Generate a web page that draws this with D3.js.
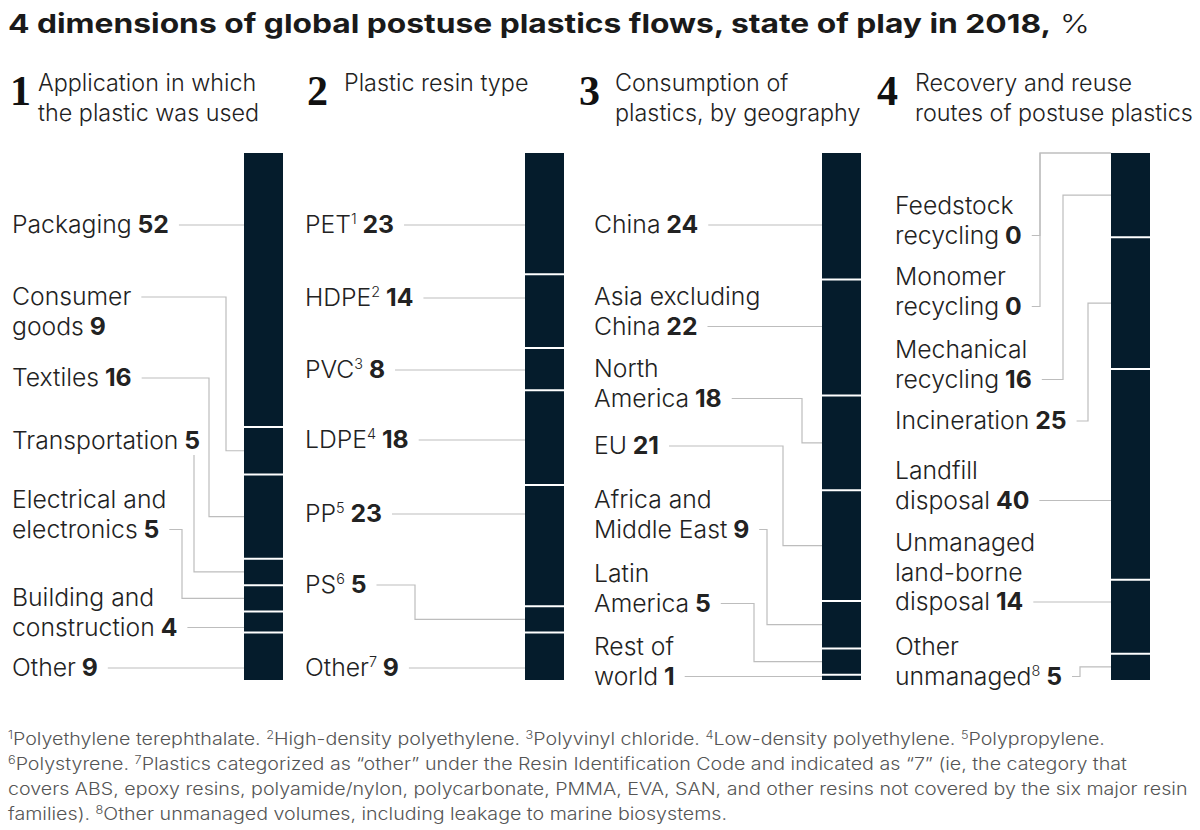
<!DOCTYPE html>
<html><head><meta charset="utf-8">
<script src="https://cdn.jsdelivr.net/npm/d3@7"></script>
<style>
body{margin:0;background:#fff;}
text{font-family:Inter,"Open Sans","Liberation Sans",sans-serif;}
text.num{font-family:"Liberation Serif","DejaVu Serif",serif;}
</style></head>
<body><svg id="c" width="1200" height="830"></svg>
<script>
// ---------- data ----------
const appCats  = ["Packaging","Consumer goods","Textiles","Transportation","Electrical and electronics","Building and construction","Other"];
const appVals  = [52,9,16,5,5,4,9];
const resinCats = ["PET","HDPE","PVC","LDPE","PP","PS","Other"];
const resinSups = ["1","2","3","4","5","6","7"];
const resinVals = [23,14,8,18,23,5,9];
const geoCats  = ["China","Asia excluding China","North America","EU","Africa and Middle East","Latin America","Rest of world"];
const geoVals  = [24,22,18,21,9,5,1];
const routeCats = ["Feedstock recycling","Monomer recycling","Mechanical recycling","Incineration","Landfill disposal","Unmanaged land-borne disposal","Other unmanaged"];
const routeSups = ["","","","","","","8"];
const routeVals = [0,0,16,25,40,14,5];
const headers = [["Application in which","the plastic was used"],["Plastic resin type"],["Consumption of","plastics, by geography"],["Recovery and reuse","routes of postuse plastics"]];
const title = "4 dimensions of global postuse plastics flows, state of play in 2018,";
const titleUnit = " %";

// label line breaks & leader layout (layout only)
const layouts = [
  {barX:244, labelX:12, headX:10, headTextX:38, items:[
    {lines:["Packaging"], y:225},
    {lines:["Consumer","goods"], y:297, lead:0, elbow:226},
    {lines:["Textiles"], y:378, elbow:209},
    {lines:["Transportation"], y:441, below:true, elbow:194},
    {lines:["Electrical and","electronics"], y:500, elbow:182},
    {lines:["Building and","construction"], y:598},
    {lines:["Other"], y:668}]},
  {barX:525, labelX:305, headX:307, headTextX:344, items:[
    {lines:["PET"], y:225},{lines:["HDPE"], y:298},{lines:["PVC"], y:370},
    {lines:["LDPE"], y:440},{lines:["PP"], y:514},
    {lines:["PS"], y:585, elbow:415},{lines:["Other"], y:668}]},
  {barX:822, labelX:594, headX:579, headTextX:615, items:[
    {lines:["China"], y:225},
    {lines:["Asia excluding","China"], y:297},
    {lines:["North","America"], y:369, elbow:802},
    {lines:["EU"], y:446, elbow:783},
    {lines:["Africa and","Middle East"], y:500, elbow:767},
    {lines:["Latin","America"], y:574, elbow:754},
    {lines:["Rest of","world"], y:647}]},
  {barX:1111, labelX:895, headX:877, headTextX:915, items:[
    {lines:["Feedstock","recycling"], y:206, elbow:1040, edge:true},
    {lines:["Monomer","recycling"], y:277, elbow:1040, edge:true},
    {lines:["Mechanical","recycling"], y:350, elbow:1063},
    {lines:["Incineration"], y:421, elbow:1088},
    {lines:["Landfill","disposal"], y:471},
    {lines:["Unmanaged","land-borne","disposal"], y:543},
    {lines:["Other","unmanaged"], y:647, elbow:1080}]}
];
const columns = [
  {cats:appCats, vals:appVals, sups:null},
  {cats:resinCats, vals:resinVals, sups:resinSups},
  {cats:geoCats, vals:geoVals, sups:null},
  {cats:routeCats, vals:routeVals, sups:routeSups}
];

const footnotes = [
  [["1","Polyethylene terephthalate. "],["2","High-density polyethylene. "],["3","Polyvinyl chloride. "],["4","Low-density polyethylene. "],["5","Polypropylene."]],
  [["6","Polystyrene. "],["7","Plastics categorized as “other” under the Resin Identification Code and indicated as “7” (ie, the category that"]],
  [["","covers ABS, epoxy resins, polyamide/nylon, polycarbonate, PMMA, EVA, SAN, and other resins not covered by the six major resin"]],
  [["","families). "],["8","Other unmanaged volumes, including leakage to marine biosystems."]]
];

// ---------- drawing ----------
const svg = d3.select("#c");
const NAVY = "#051c2c", INK = "#222", LINE = "#bdbdbd";
const barW = 39, lineH = 29.5, FS = 24;
const y = d3.scaleLinear().domain([0,100]).range([153,680]);

function measure(parts, size) {
  const p = svg.append("text").attr("font-size",size);
  parts.forEach(([w,t]) => p.append("tspan").attr("font-weight",w).text(t));
  const w = p.node().getComputedTextLength();
  p.remove();
  return w;
}
// horizontal scales so the font widths match the reference
const KX = Math.max(0.85, Math.min(1.2, 157 / measure([[300,"Packaging"],[700," 52"]], FS)));
const HK = Math.max(0.85, Math.min(1.2, 278 / measure([[300,"routes of postuse plastics"]], FS)));

function stext(g, x, yy, size, k) {
  return g.append("text").attr("transform",`translate(${x},${yy}) scale(${k},1)`)
    .attr("font-size",size).attr("fill",INK);
}

// title (scaled horizontally to the reference width)
const tt = svg.append("text").attr("font-size",26).attr("fill","#1a1a1a");
tt.append("tspan").attr("font-weight",700).text(title);
tt.append("tspan").attr("font-weight",300).text(titleUnit);
{
  const w = tt.node().getComputedTextLength();
  tt.attr("transform",`translate(8,33) scale(${1082/w},1)`);
}

columns.forEach((col, ci) => {
  const L = layouts[ci];
  const g = svg.append("g");
  // header
  g.append("text").attr("class","num").attr("x",L.headX).attr("y",105)
    .attr("font-weight",700).attr("font-size",42).attr("fill","#111").text(String(ci+1));
  headers[ci].forEach((h,i)=>{
    stext(g, L.headTextX, 91+i*lineH, FS, HK).attr("font-weight",300).text(h);
  });
  // stacked segments
  const cum = d3.cumsum(col.vals);
  const segs = col.vals.map((v,i)=>({v, y0:(cum[i]-v), y1:cum[i]}));
  g.selectAll("rect.seg").data(segs).join("rect").attr("class","seg")
    .attr("x",L.barX).attr("width",barW)
    .attr("y",d=>y(d.y0)).attr("height",d=>y(d.y1)-y(d.y0)).attr("fill",NAVY);
  // separators
  const bounds = cum.slice(0,-1).filter((c,i)=>col.vals[i]>0 && c>0 && c<100);
  g.selectAll("line.sep").data(bounds).join("line").attr("class","sep")
    .attr("x1",L.barX).attr("x2",L.barX+barW).attr("y1",d=>y(d)).attr("y2",d=>y(d))
    .attr("stroke","#fff").attr("stroke-width",2);

  // labels
  L.items.forEach((it, i) => {
    const nl = it.lines.length;
    const lineNodes = [];
    it.lines.forEach((ln, li) => {
      const tl = stext(g, L.labelX, it.y + li*lineH + 8, FS, KX);
      tl.append("tspan").attr("font-weight",300).text(ln);
      if (li === nl-1) {
        const sup = col.sups ? col.sups[i] : "";
        if (sup) {
          tl.append("tspan").attr("font-weight",300).attr("font-size",14).attr("dy",-9).text(sup);
          tl.append("tspan").attr("font-weight",700).attr("dy",9).text(" " + col.vals[i]);
        } else {
          tl.append("tspan").attr("font-weight",700).text(" " + col.vals[i]);
        }
      }
      lineNodes.push(tl.node());
    });
    // leader
    const li = it.lead !== undefined ? it.lead : nl-1;
    const ly = it.y + li*lineH;
    const textEnd = L.labelX + KX * lineNodes[li].getComputedTextLength();
    const sx = textEnd + 10;
    const s = segs[i];
    const mid = it.edge ? y(s.y0) : y((s.y0+s.y1)/2);
    let path;
    if (it.below) {
      path = `M${it.elbow},${ly+14}V${mid}H${L.barX}`;
    } else if (it.elbow !== undefined) {
      path = `M${sx},${ly}H${Math.max(it.elbow, sx+4)}V${mid}H${L.barX}`;
    } else {
      path = `M${sx},${ly}H${L.barX}`;
    }
    g.append("path").attr("d",path).attr("fill","none").attr("stroke",LINE).attr("stroke-width",1.2);
  });
});

// footnotes: one common horizontal scale, taken from the full-width third line (≈1180px)
const fnodes = footnotes.map((parts, i) => {
  const t = svg.append("text").attr("font-size",17).attr("fill","#555").attr("font-weight",300);
  parts.forEach(([sup, txt]) => {
    if (sup) {
      t.append("tspan").attr("font-size",11).attr("dy",-6).text(sup);
      t.append("tspan").attr("dy",6).text(txt);
    } else t.append("tspan").text(txt);
  });
  return t;
});
const FK = 1180 / fnodes[2].node().getComputedTextLength();
fnodes.forEach((t,i) => t.attr("transform",`translate(8,${745 + i*25}) scale(${FK},1)`));
</script></body></html>
